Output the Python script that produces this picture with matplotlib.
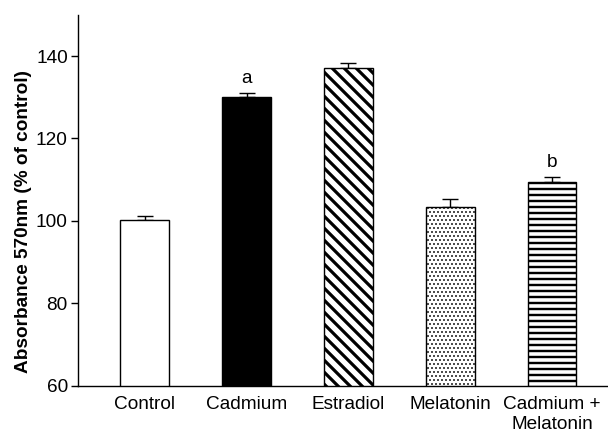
import matplotlib
matplotlib.use("Agg")
import matplotlib.pyplot as plt

plt.rcParams['font.family'] = ['Liberation Sans', 'DejaVu Sans']

# values
groups  = ["Control", "Cadmium", "Estradiol", "Melatonin", "Cadmium +\nMelatonin"]
means   = [100.3, 130.1, 137.0, 103.3, 109.5]
errs    = [1.0, 0.9, 1.3, 2.0, 1.2]
letters = ["", "a", "", "", "b"]

faces   = ["white", "black", "white", "white", "white"]
hatches = [None, None, "\\\\", "...", "--"]
hatch_w = [1.0, 1.0, 3.2, 1.0, 2.4]

# dpi 72 so that 1 pt == 1 px and hatch spacing is easy to control
DPI = 72
fig = plt.figure(figsize=(608 / DPI, 435 / DPI), dpi=DPI)
ax = fig.add_axes([0.128, 0.113, 0.872, 0.853])

x = list(range(len(groups)))
for i in x:
    bar = ax.bar(x[i], means[i], width=0.48, bottom=0, color=faces[i],
                 edgecolor="black", linewidth=1.4, hatch=hatches[i], zorder=2)
    for p in bar.patches:
        if hasattr(p, "set_hatch_linewidth"):
            p.set_hatch_linewidth(hatch_w[i])

ax.errorbar(x, means, yerr=[[0] * len(errs), errs], fmt="none", ecolor="black",
            elinewidth=1.4, capsize=8, capthick=1.4, zorder=1)

for i in x:
    if letters[i]:
        ax.text(x[i], means[i] + errs[i] + 1.4, letters[i], ha="center",
                va="bottom", fontsize=19)

ax.set_xlim(-0.658, 4.55)
ax.set_ylim(60, 150)
ax.set_yticks([60, 80, 100, 120, 140])
ax.set_xticks(x)
ax.set_xticklabels(groups, fontsize=19, linespacing=1.25)
ax.tick_params(axis="x", length=0, pad=10)
ax.tick_params(axis="y", length=7, width=1.4, labelsize=19, pad=3)
ax.set_ylabel("Absorbance 570nm (% of control)", fontsize=19,
              fontweight="bold", labelpad=6)
ax.yaxis.set_label_coords(-0.086, 0.442)

for s in ["top", "right"]:
    ax.spines[s].set_visible(False)
for s in ["left", "bottom"]:
    ax.spines[s].set_linewidth(1.4)

fig.savefig("out.png", dpi=DPI)
